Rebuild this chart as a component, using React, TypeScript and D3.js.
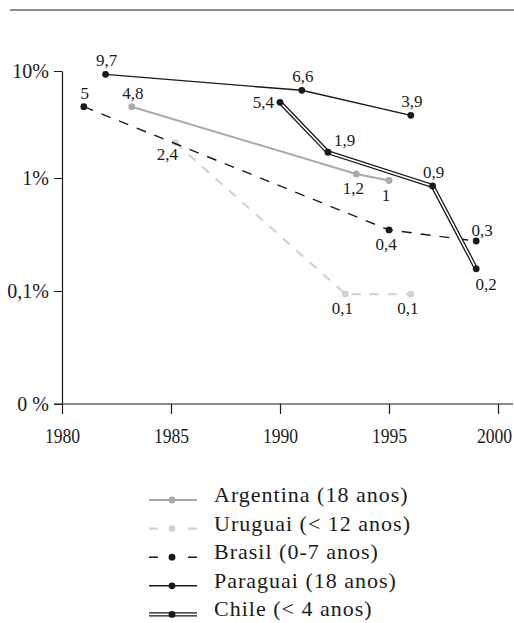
// react
import { useEffect, useRef } from "react";

// d3
import * as d3 from "d3";

// axis ticks
const YEAR_TICKS = [1980, 1985, 1990, 1995, 2000];
const Y_TICKS = [0.01, 0.1, 1, 10];
const Y_TICK_LABELS = ["0 %", "0,1%", "1%", "10%"];

// series (year, % value, printed label)
const argentinaYears = [1983.2, 1993.5, 1995];
const argentinaValues = [4.64, 1.09, 0.95];
const argentinaLabels = ["4,8", "1,2", "1"];

const uruguaiYears = [1985.2, 1993, 1996];
const uruguaiValues = [2.14, 0.094, 0.094];
const uruguaiLabels = ["2,4", "0,1", "0,1"];

const brasilYears = [1981, 1995, 1999];
const brasilValues = [4.64, 0.347, 0.277];
const brasilLabels = ["5", "0,4", "0,3"];

const paraguaiYears = [1982, 1991, 1996];
const paraguaiValues = [9.3, 6.6, 3.85];
const paraguaiLabels = ["9,7", "6,6", "3,9"];

const chileYears = [1990, 1992.2, 1997, 1999];
const chileValues = [5.1, 1.74, 0.85, 0.157];
const chileLabels = ["5,4", "1,9", "0,9", "0,2"];

const legendNames = [
  "Argentina (18 anos)",
  "Uruguai (< 12 anos)",
  "Brasil (0-7 anos)",
  "Paraguai (18 anos)",
  "Chile (< 4 anos)",
];

// where each value label sits around its point
const LABEL_POS: Record<string, { dx: number; dy: number; anchor: string }> = {
  t: { dx: 1, dy: -8, anchor: "middle" },
  tr: { dx: 6, dy: -5, anchor: "middle" },
  b: { dx: -3, dy: 20, anchor: "middle" },
  bl: { dx: -8, dy: 17, anchor: "middle" },
  br: { dx: 10, dy: 21, anchor: "middle" },
  l: { dx: -6, dy: 6, anchor: "end" },
  r: { dx: 6, dy: -6, anchor: "start" },
};

const BLACK = "#1a1a1a";
const SERIF = "'Liberation Serif', 'Times New Roman', serif";

type Series = {
  years: number[];
  values: number[];
  labels: string[];
  pos: string[];
  color: string;
  width: number;
  dash?: string;
  double?: boolean;
};

const SERIES: Series[] = [
  { years: uruguaiYears, values: uruguaiValues, labels: uruguaiLabels, pos: ["bl", "b", "b"], color: "#d2d2d2", width: 2.2, dash: "9 9" },
  { years: argentinaYears, values: argentinaValues, labels: argentinaLabels, pos: ["t", "b", "b"], color: "#a9a9a9", width: 2 },
  { years: brasilYears, values: brasilValues, labels: brasilLabels, pos: ["t", "b", "tr"], color: BLACK, width: 1.4, dash: "10 9" },
  { years: paraguaiYears, values: paraguaiValues, labels: paraguaiLabels, pos: ["t", "t", "t"], color: BLACK, width: 1.4 },
  { years: chileYears, values: chileValues, labels: chileLabels, pos: ["l", "r", "t", "br"], color: BLACK, width: 1.4, double: true },
];

// legend order
const LEGEND_ORDER = [1, 0, 2, 3, 4];

export default function App() {
  const ref = useRef<SVGSVGElement>(null);

  useEffect(() => {
    if (!ref.current) return;
    document.body.style.margin = "0";
    const svg = d3.select(ref.current);
    svg.selectAll("*").remove();

    const W = 514;
    const H = 623;
    svg.attr("width", W).attr("height", H).attr("viewBox", `0 0 ${W} ${H}`);

    const x = d3.scaleLinear().domain([1980, 2000]).range([62, 498]);
    const y = d3.scaleLog().domain(Y_TICKS).range([404, 291, 178, 71]);

    // top rule
    svg.append("line")
      .attr("x1", 10).attr("x2", 514).attr("y1", 10).attr("y2", 10)
      .attr("stroke", "#8c8c8c").attr("stroke-width", 2);

    // y axis
    svg.append("g")
      .attr("transform", "translate(62,0)")
      .call(d3.axisLeft(y).tickValues(Y_TICKS).tickSize(8).tickSizeOuter(0)
        .tickFormat((_, i) => Y_TICK_LABELS[i]))
      .call((a) => {
        a.select(".domain").attr("stroke", BLACK).attr("stroke-width", 1.2);
        a.selectAll("line").attr("stroke", BLACK);
        a.selectAll("text")
          .attr("x", -13).attr("dy", "0.34em")
          .attr("font-family", SERIF).attr("font-size", 20).attr("fill", BLACK);
      });

    // x axis
    svg.append("line")
      .attr("x1", 54).attr("x2", 513).attr("y1", 404).attr("y2", 404)
      .attr("stroke", BLACK).attr("stroke-width", 1.2);
    const sx = 0.8;
    const halfW = 18; // half of the squeezed label width
    svg.append("g")
      .attr("transform", "translate(0,404)")
      .call(d3.axisBottom(x).tickValues(YEAR_TICKS).tickSize(10).tickFormat(d3.format("d")))
      .call((a) => {
        a.select(".domain").remove();
        a.selectAll("line").attr("stroke", BLACK).attr("stroke-width", 1.2);
        a.selectAll<SVGTextElement, number>("text")
          .attr("x", (d) => Math.min(0, W - 2 - halfW - x(d)) / sx)
          .attr("y", 39).attr("dy", 0)
          .attr("transform", `scale(${sx},1)`)
          .attr("font-family", SERIF).attr("font-size", 22).attr("fill", BLACK);
      });

    SERIES.forEach((s) => {
      const pts: [number, number][] = s.years.map((yr, i) => [x(yr), y(s.values[i])]);
      const path = d3.line()(pts) ?? "";
      if (s.double) {
        svg.append("path").attr("d", path).attr("fill", "none")
          .attr("stroke", s.color).attr("stroke-width", 4.2);
        svg.append("path").attr("d", path).attr("fill", "none")
          .attr("stroke", "#fff").attr("stroke-width", 1.6);
      } else {
        svg.append("path").attr("d", path).attr("fill", "none")
          .attr("stroke", s.color).attr("stroke-width", s.width)
          .attr("stroke-dasharray", s.dash ?? null);
      }
      pts.forEach(([px, py], i) => {
        svg.append("circle").attr("cx", px).attr("cy", py).attr("r", 3.4).attr("fill", s.color);
        const p = LABEL_POS[s.pos[i]];
        svg.append("text")
          .attr("x", px + p.dx).attr("y", py + p.dy)
          .attr("text-anchor", p.anchor)
          .attr("font-family", SERIF).attr("font-size", 17).attr("fill", BLACK)
          .text(s.labels[i]);
      });
    });

    // legend
    const leg = svg.append("g");
    LEGEND_ORDER.forEach((si, row) => {
      const s = SERIES[si];
      const ly = 500 + row * 28.6;
      const x0 = 149;
      const x1 = 197;
      const seg = leg.append("line").attr("x1", x0).attr("x2", x1).attr("y1", ly).attr("y2", ly);
      if (s.double) {
        seg.attr("stroke", s.color).attr("stroke-width", 4.2);
        leg.append("line").attr("x1", x0).attr("x2", x1).attr("y1", ly).attr("y2", ly)
          .attr("stroke", "#fff").attr("stroke-width", 1.6);
      } else {
        seg.attr("stroke", s.color).attr("stroke-width", s.width)
          .attr("stroke-dasharray", s.dash ? "9 30" : null);
      }
      leg.append("circle").attr("cx", 172).attr("cy", ly).attr("r", 3.4).attr("fill", s.color);
      leg.append("text")
        .attr("x", 214).attr("y", ly + 2)
        .attr("font-family", SERIF).attr("font-size", 22).attr("letter-spacing", 1)
        .attr("fill", BLACK)
        .text(legendNames[row]);
    });
  }, []);

  return <svg ref={ref} />;
}
